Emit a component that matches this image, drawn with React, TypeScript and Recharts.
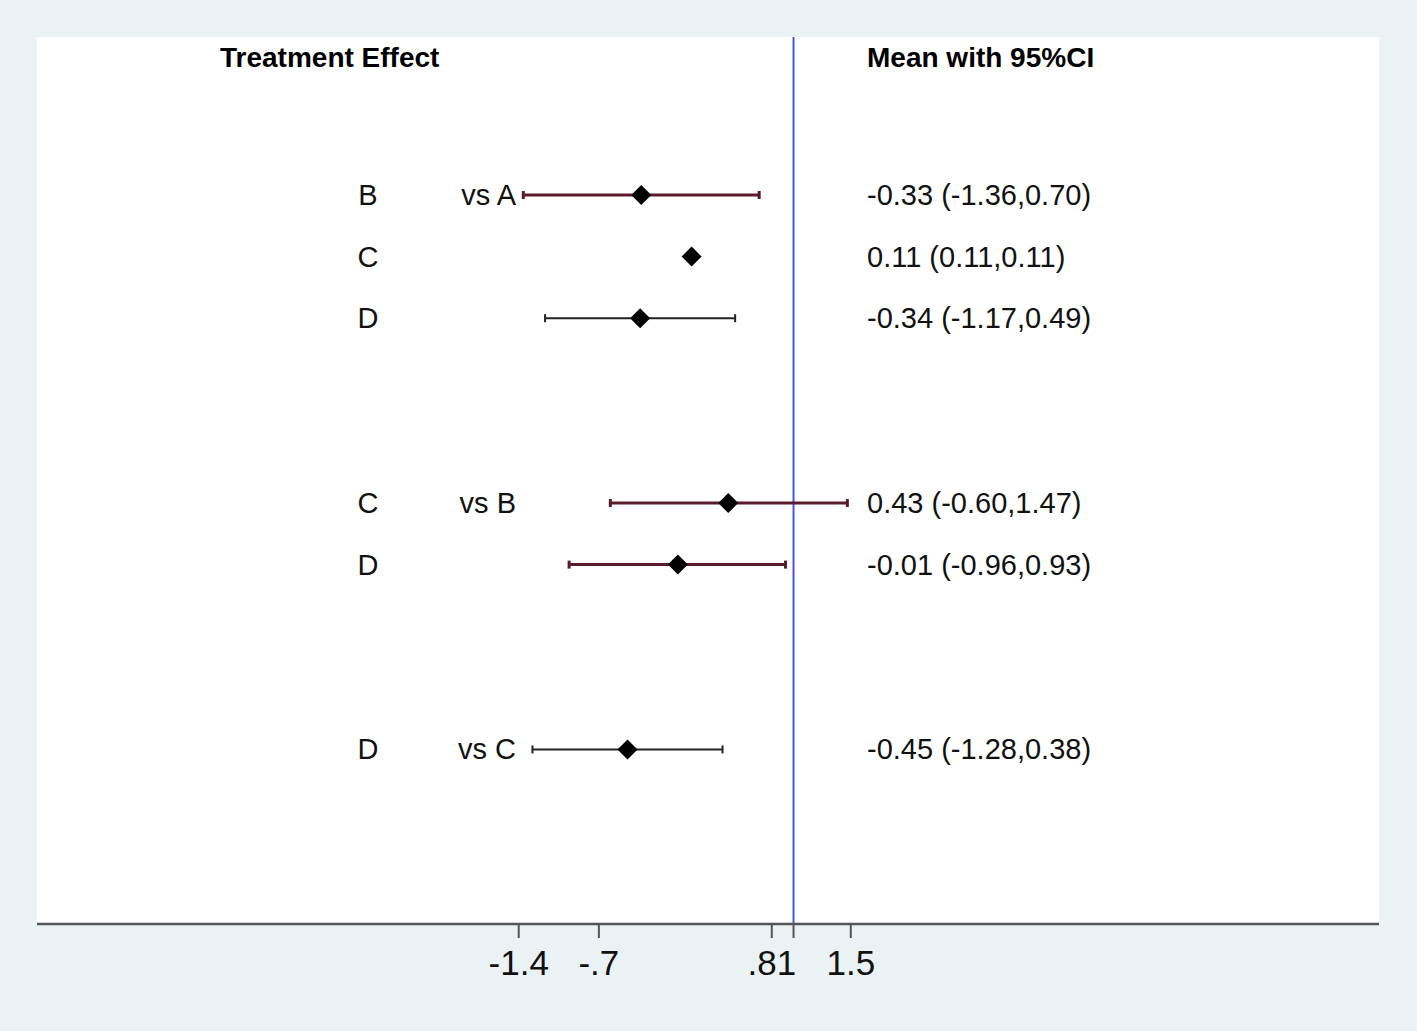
import React from "react";
import {
  ComposedChart, Scatter, XAxis, YAxis, ErrorBar,
  ReferenceLine, CartesianGrid,
} from "recharts";

// rows of the forest plot, top to bottom
const treatments = ["B", "C", "D", "C", "D", "D"];
const comparators = ["vs A", "", "", "vs B", "", "vs C"];
const rowIndex = [0, 1, 2, 5, 6, 9];
const means = [-0.33, 0.11, -0.34, 0.43, -0.01, -0.45];
const lowers = [-1.36, 0.11, -1.17, -0.6, -0.96, -1.28];
const uppers = [0.7, 0.11, 0.49, 1.47, 0.93, 0.38];
const ciLabels = [
  "-0.33 (-1.36,0.70)",
  "0.11 (0.11,0.11)",
  "-0.34 (-1.17,0.49)",
  "0.43 (-0.60,1.47)",
  "-0.01 (-0.96,0.93)",
  "-0.45 (-1.28,0.38)",
];
// which CI line colour each row uses
const ciGroup = ["maroon", "none", "black", "maroon", "maroon", "black"];

const xTicks = [-1.4, -0.7, 0.81, 1, 1.5];
const xTickLabels = ["-1.4", "-.7", ".81", "", "1.5"];
const nullLine = 1;

const rows = treatments.map((t, i) => ({
  treatment: t,
  comparator: comparators[i],
  row: rowIndex[i],
  mean: means[i],
  err: [means[i] - lowers[i], uppers[i] - means[i]],
  label: ciLabels[i],
  group: ciGroup[i],
}));

const FONT = '"Liberation Sans", Arial, Helvetica, sans-serif';
const W = 1417;
const H = 1031;

const nothing = () => <g />;

function RowShape(props: any) {
  const { cx, cy, payload } = props;
  const h = 10;
  return (
    <g fontFamily={FONT} fontSize={29} fill="#111">
      <path
        d={`M${cx},${cy - h} L${cx + h},${cy} L${cx},${cy + h} L${cx - h},${cy} Z`}
        fill="#000"
      />
      <text x={368} y={cy + 10} textAnchor="middle">{payload.treatment}</text>
      {payload.comparator && (
        <text x={516} y={cy + 10} textAnchor="end">{payload.comparator}</text>
      )}
      <text x={867} y={cy + 10}>{payload.label}</text>
    </g>
  );
}

export default function App() {
  const maroon = rows.filter(r => r.group === "maroon");
  const black = rows.filter(r => r.group === "black");
  return (
    <div style={{ position: "absolute", left: 0, top: 0, width: W, height: H, background: "#eaf2f3" }}>
      <ComposedChart width={W} height={H} margin={{ top: 37, right: 38, left: 37, bottom: 47 }}>
        <CartesianGrid horizontal={false} vertical={false} fill="#ffffff" />
        <XAxis
          type="number" dataKey="mean" domain={[-5.607, 6.113]} ticks={xTicks}
          tickFormatter={(v: number) => xTickLabels[xTicks.indexOf(v)] ?? ""}
          height={60} tickSize={14} tickMargin={12} interval={0}
          axisLine={{ stroke: "#555", strokeWidth: 2.5 }}
          tickLine={{ stroke: "#555", strokeWidth: 2 }}
          tick={{ fontSize: 35, fill: "#111", fontFamily: FONT }}
        />
        <YAxis type="number" dataKey="row" domain={[-2.565, 11.834]} reversed hide />
        <ReferenceLine x={nullLine} stroke="#4d4dff" strokeWidth={2} />
        <Scatter data={maroon} shape={nothing} isAnimationActive={false}>
          <ErrorBar dataKey="err" direction="x" width={4} stroke="#5a1c2c" strokeWidth={3} isAnimationActive={false} />
        </Scatter>
        <Scatter data={black} shape={nothing} isAnimationActive={false}>
          <ErrorBar dataKey="err" direction="x" width={4} stroke="#222" strokeWidth={2} isAnimationActive={false} />
        </Scatter>
        <Scatter data={rows} shape={RowShape} isAnimationActive={false} />
      </ComposedChart>
      <svg width={W} height={H} style={{ position: "absolute", left: 0, top: 0, pointerEvents: "none" }}>
        <g fontFamily={FONT} fontSize={28} fontWeight="bold" fill="#000">
          <text x={220} y={67}>Treatment Effect</text>
          <text x={867} y={67}>Mean with 95%CI</text>
        </g>
      </svg>
    </div>
  );
}
